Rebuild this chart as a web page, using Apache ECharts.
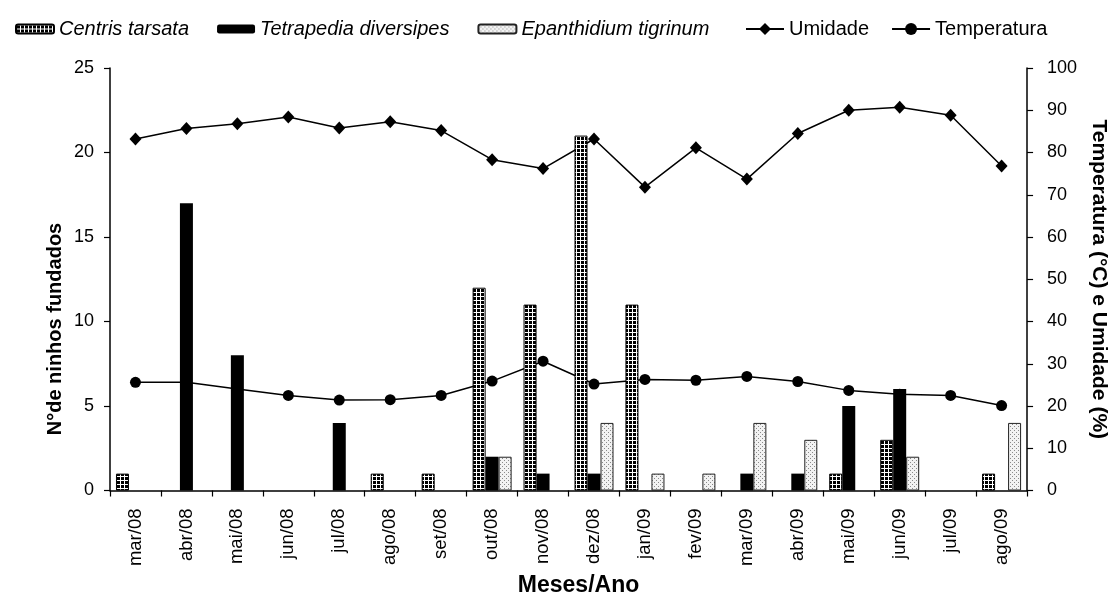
<!DOCTYPE html>
<html>
<head>
<meta charset="utf-8">
<script src="https://cdn.jsdelivr.net/npm/echarts@6/dist/echarts.min.js"></script>
<style>
html,body{margin:0;padding:0;background:#fff;}
#chart{width:1117px;height:602px;}
</style>
</head>
<body>
<div id="chart"></div>
<script>
const categories = ['mar/08','abr/08','mai/08','jun/08','jul/08','ago/08','set/08','out/08','nov/08','dez/08','jan/09','fev/09','mar/09','abr/09','mai/09','jun/09','jul/09','ago/09'];
const centris = [1,0,0,0,0,1,1,12,11,21,11,0,0,0,1,3,0,1];
const tetrapedia = [0,17,8,0,4,0,0,2,1,1,0,0,1,1,5,6,0,0];
const epanthidium = [0,0,0,0,0,0,0,2,0,4,1,1,4,3,0,2,0,4];
const umidade = [83.2,85.7,86.8,88.4,85.8,87.3,85.2,78.3,76.2,83.2,71.8,81.1,73.7,84.5,90.0,90.7,88.8,76.8];
const temperatura = [25.6,25.6,24.0,22.5,21.4,21.5,22.5,25.9,30.6,25.2,26.3,26.1,27.0,25.8,23.7,22.8,22.5,20.1];
const leftTicks = [0,5,10,15,20,25];
const rightTicks = [0,10,20,30,40,50,60,70,80,90,100];

const FONT = "'Liberation Sans', Arial, sans-serif";

function gridPattern(){
  const c = document.createElement('canvas');
  c.width = 4; c.height = 4;
  const g = c.getContext('2d');
  g.fillStyle = '#000'; g.fillRect(0,0,4,4);
  g.fillStyle = '#fff';
  g.fillRect(0,0,4,1);
  g.fillRect(0,0,1,4);
  return c;
}
function dotPattern(){
  const c = document.createElement('canvas');
  c.width = 4; c.height = 4;
  const g = c.getContext('2d');
  g.fillStyle = '#f2f2f2'; g.fillRect(0,0,4,4);
  g.fillStyle = '#8a8a8a';
  g.fillRect(0,0,1,1);
  g.fillRect(2,2,1,1);
  return c;
}
const nz = a => a.map(v => v === 0 ? null : v);

const chart = echarts.init(document.getElementById('chart'), null, {renderer:'canvas'});
const species = ['Centris tarsata','Tetrapedia diversipes','Epanthidium tigrinum'];
const legendText = {fontSize:20, color:'#000', fontFamily:FONT,
  rich:{i:{fontStyle:'italic', fontSize:20, fontFamily:FONT, color:'#000'}}};
chart.setOption({
  backgroundColor:'#fff',
  animation:false,
  textStyle:{fontFamily:FONT},
  legend:[{
    left:10, top:14, itemGap:28, itemWidth:38, itemHeight:9,
    data:species,
    formatter: n => '{i|' + n + '}',
    textStyle:legendText
  },{
    left:740, top:14, itemGap:22, itemWidth:38, itemHeight:15,
    data:['Umidade','Temperatura'],
    textStyle:legendText
  }],
  grid:{left:110, right:78, top:68, bottom:105, containLabel:false},
  xAxis:{
    type:'category', data:categories, boundaryGap:true,
    name:'Meses/Ano', nameLocation:'middle', nameGap:80,
    nameTextStyle:{fontSize:23, fontWeight:'bold', color:'#000', fontFamily:FONT, padding:[0,0,0,20]},
    axisLine:{lineStyle:{color:'#000', width:1.5}},
    axisTick:{show:true, alignWithLabel:false, length:6, lineStyle:{color:'#000', width:1.2}},
    axisLabel:{rotate:90, fontSize:18.5, color:'#000', margin:18, interval:0, fontFamily:FONT}
  },
  yAxis:[
    {type:'value', min:0, max:25, interval:5, position:'left',
     axisLine:{show:true, lineStyle:{color:'#000', width:1.5}},
     axisTick:{show:true, length:6, lineStyle:{color:'#000', width:1.2}},
     axisLabel:{fontSize:18, color:'#000', margin:16, fontFamily:FONT,
       formatter: v => leftTicks.indexOf(v) >= 0 ? String(v) : ''},
     splitLine:{show:false}},
    {type:'value', min:0, max:100, interval:10, position:'right',
     name:'Temperatura (°C) e Umidade (%)', nameLocation:'middle', nameGap:53, nameRotate:-90,
     nameTextStyle:{fontSize:21, fontWeight:'bold', color:'#000', fontFamily:FONT},
     axisLine:{show:true, lineStyle:{color:'#000', width:1.5}},
     axisTick:{show:true, length:6, lineStyle:{color:'#000', width:1.2}},
     axisLabel:{fontSize:18, color:'#000', margin:20, fontFamily:FONT,
       formatter: v => rightTicks.indexOf(v) >= 0 ? String(v) : ''},
     splitLine:{show:false}}
  ],
  graphic:[{
    type:'text', x:55, y:329, rotation:Math.PI/2,
    style:{text:'N°de ninhos fundados', font:"bold 20px 'Liberation Sans', Arial, sans-serif",
      fill:'#000', align:'center', verticalAlign:'middle'}
  }],
  series:[
    {name:'Centris tarsata', type:'bar', yAxisIndex:0, data:nz(centris), barWidth:13, barGap:'0%', z:3,
     itemStyle:{color:{image:gridPattern(), repeat:'repeat'}, borderColor:'#000', borderWidth:1}},
    {name:'Tetrapedia diversipes', type:'bar', yAxisIndex:0, data:nz(tetrapedia), barWidth:13, barGap:'0%', z:3,
     itemStyle:{color:'#000', borderColor:'#000', borderWidth:0}},
    {name:'Epanthidium tigrinum', type:'bar', yAxisIndex:0, data:nz(epanthidium), barWidth:13, barGap:'0%', z:3,
     itemStyle:{color:{image:dotPattern(), repeat:'repeat'}, borderColor:'#222', borderWidth:1}},
    {name:'Umidade', type:'line', yAxisIndex:1, data:umidade, z:1,
     symbol:'diamond', symbolSize:[12,13],
     lineStyle:{color:'#000', width:1.5}, itemStyle:{color:'#000'}},
    {name:'Temperatura', type:'line', yAxisIndex:1, data:temperatura, z:1,
     symbol:'circle', symbolSize:11,
     lineStyle:{color:'#000', width:1.5}, itemStyle:{color:'#000'}}
  ]
});
</script>
</body>
</html>
